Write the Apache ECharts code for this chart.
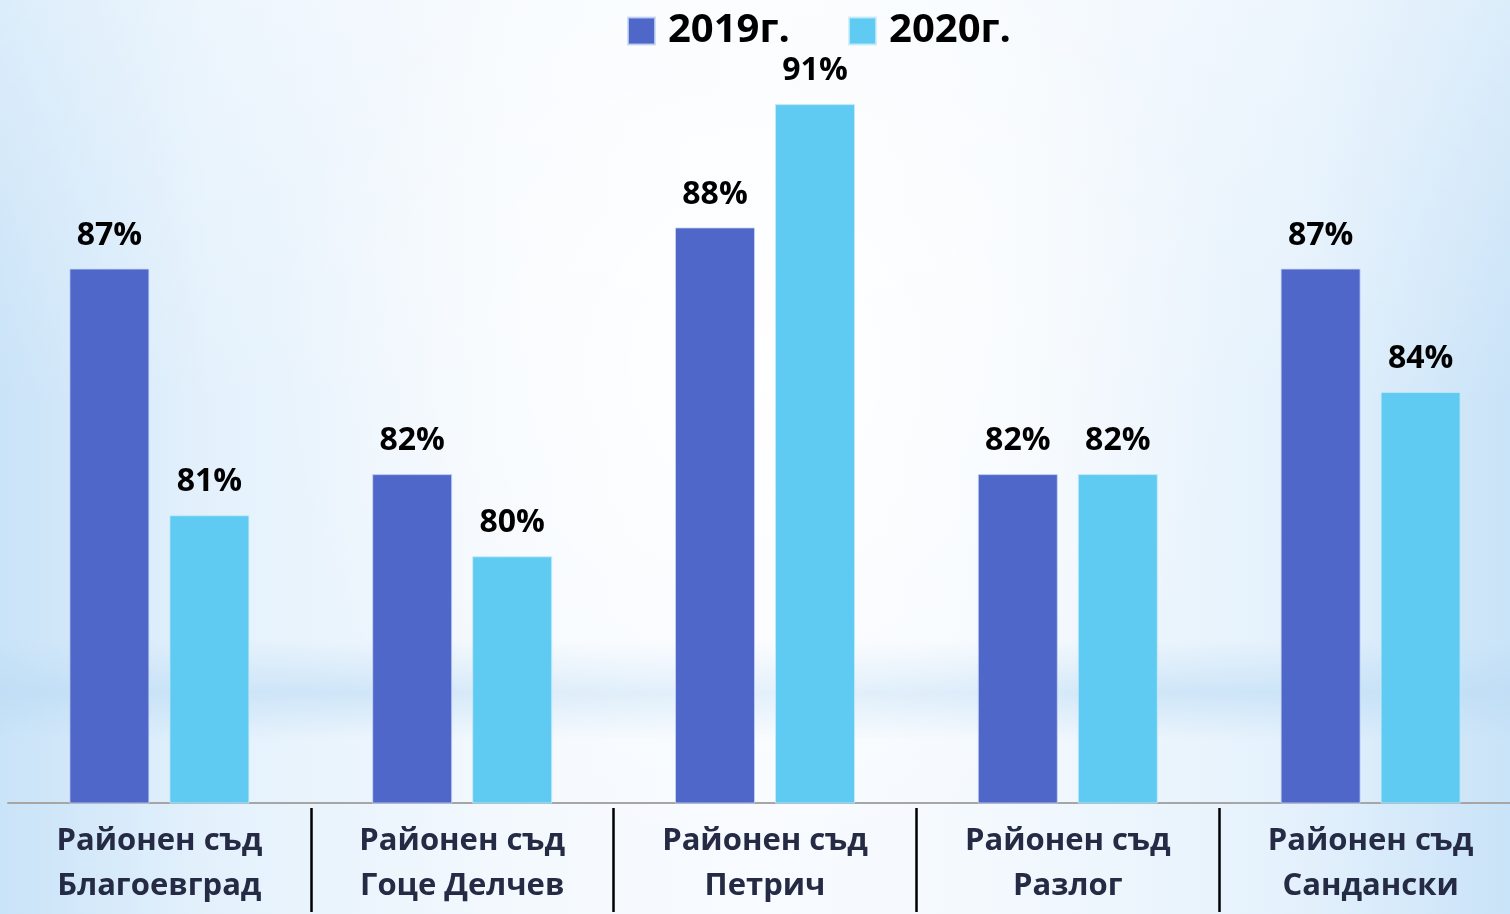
<!DOCTYPE html>
<html>
<head>
<meta charset="utf-8">
<script src="https://cdn.jsdelivr.net/npm/echarts@6/dist/echarts.min.js"></script>
<style>
html,body{margin:0;padding:0;}
#main{
  width:1510px;height:914px;
  background:
    radial-gradient(ellipse 32% 55% at 50% 40%, rgba(255,255,255,0.95), rgba(255,255,255,0) 100%),
    linear-gradient(to bottom, rgba(255,255,255,0) 0%, rgba(255,255,255,0) 70%, rgba(185,218,244,0.55) 75.8%, rgba(255,255,255,0) 81%, rgba(255,255,255,0) 100%),
    linear-gradient(to bottom, rgba(255,255,255,0.35) 0%, rgba(255,255,255,0) 45%, rgba(255,255,255,0) 100%),
    linear-gradient(to right, #c9e3f8 0%, #e4f1fc 14%, #f4f9fe 35%, #f8fbff 50%, #f4f9fe 65%, #e4f1fc 86%, #c9e3f8 100%);
}
</style>
</head>
<body>
<div id="main"></div>
<script>
const categories = [
  'Районен съд\nБлагоевград',
  'Районен съд\nГоце Делчев',
  'Районен съд\nПетрич',
  'Районен съд\nРазлог',
  'Районен съд\nСандански'
];
const seriesNames = ['2019г.', '2020г.'];
const values2019 = [87, 82, 88, 82, 87];
const values2020 = [81, 80, 91, 82, 84];

const chart = echarts.init(document.getElementById('main'), null, {renderer: 'canvas'});
const FONT = '"Open Sans", "Noto Sans", sans-serif';

const labelCfg = {
  show: true,
  position: 'top',
  distance: 17,
  formatter: '{c}%',
  fontFamily: FONT,
  fontWeight: 'bold',
  fontSize: 32,
  lineHeight: 32,
  color: '#000'
};

chart.setOption({
  animation: false,
  backgroundColor: 'transparent',
  legend: {
    top: 9,
    left: 627,
    padding: 0,
    itemWidth: 27,
    itemHeight: 27,
    itemGap: 58,
    icon: 'rect',
    textStyle: {
      fontFamily: FONT,
      fontWeight: 'bold',
      fontSize: 40,
      lineHeight: 44,
      color: '#000',
      padding: [0, 0, 0, 8]
    },
    data: seriesNames
  },
  grid: {
    left: 8,
    width: 1514,
    top: 63,
    height: 740,
    containLabel: false,
    outerBoundsMode: 'none'
  },
  xAxis: [
    {
      type: 'category',
      data: categories,
      position: 'bottom',
      axisLine: {show: true, lineStyle: {color: '#a6a6a6', width: 2}},
      axisTick: {show: false},
      axisLabel: {show: false}
    },
    {
      type: 'category',
      data: categories,
      position: 'bottom',
      offset: 5,
      axisLine: {show: false},
      axisTick: {
        show: true,
        length: 104,
        interval: function (index) { return index !== 0; },
        lineStyle: {color: '#000', width: 2.5}
      },
      axisLabel: {
        show: true,
        interval: 0,
        margin: 11,
        fontFamily: FONT,
        fontWeight: 'bold',
        fontSize: 31,
        lineHeight: 45,
        color: '#262b45'
      }
    }
  ],
  yAxis: {
    type: 'value',
    min: 74,
    max: 92,
    show: false,
    splitLine: {show: false}
  },
  series: [
    {
      name: seriesNames[0],
      type: 'bar',
      xAxisIndex: 0,
      data: values2019,
      barWidth: 80,
      barGap: '25%',
      itemStyle: {color: '#4f67c8', borderColor: 'rgba(200,215,245,0.8)', borderWidth: 1},
      label: labelCfg
    },
    {
      name: seriesNames[1],
      type: 'bar',
      xAxisIndex: 0,
      data: values2020,
      barWidth: 80,
      barGap: '25%',
      itemStyle: {color: '#60cbf2', borderColor: 'rgba(200,235,250,0.8)', borderWidth: 1},
      label: labelCfg
    }
  ]
});
</script>
</body>
</html>
